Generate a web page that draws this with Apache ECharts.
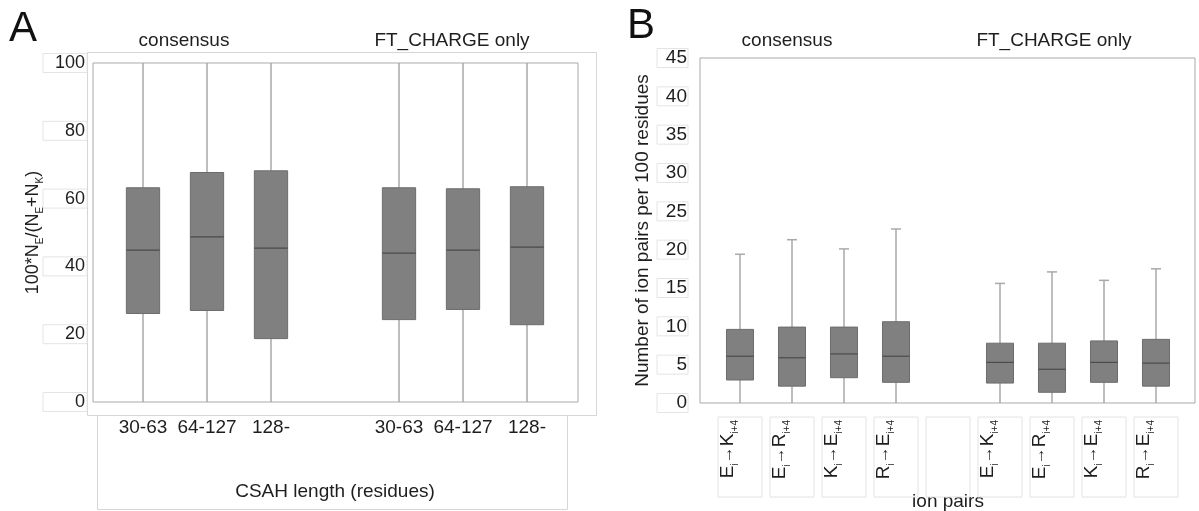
<!DOCTYPE html>
<html>
<head>
<meta charset="utf-8">
<script src="https://cdn.jsdelivr.net/npm/echarts@6/dist/echarts.min.js"></script>
<style>
  html, body { margin: 0; padding: 0; background: #fff; }
  #chart { width: 1199px; height: 511px; }
</style>
</head>
<body>
<div id="chart"></div>
<script>
// 面板A：CSAH 长度分组（空字符串为两组之间的空位）
const catsA = ['30-63', '64-127', '128-', '', '30-63', '64-127', '128-']
const minA = [0, 0, 0, null, 0, 0, 0]
const q1A = [26.1, 27.0, 18.7, null, 24.3, 27.3, 22.8]
const medA = [44.8, 48.7, 45.4, null, 43.9, 44.8, 45.7]
const q3A = [63.2, 67.7, 68.2, null, 63.2, 62.9, 63.5]
const maxA = [100, 100, 100, null, 100, 100, 100]
const ticksA = [0, 20, 40, 60, 80, 100]

// 面板B：离子对 i -> i+4
const catsB = ['E,K', 'E,R', 'K,E', 'R,E', '', 'E,K', 'E,R', 'K,E', 'R,E']
const minB = [0, 0, 0, 0, null, 0, 0, 0, 0]
const q1B = [3.0, 2.2, 3.3, 2.7, null, 2.6, 1.4, 2.7, 2.2]
const medB = [6.1, 5.9, 6.4, 6.1, null, 5.3, 4.4, 5.3, 5.2]
const q3B = [9.6, 9.9, 9.9, 10.6, null, 7.8, 7.8, 8.1, 8.3]
const maxB = [19.4, 21.3, 20.1, 22.7, null, 15.6, 17.1, 16.0, 17.5]
const ticksB = [0, 5, 10, 15, 20, 25, 30, 35, 40, 45]

const FONT = 'Liberation Sans'
const TXT = '#1e1e1e'
const WHISKER = '#a9a9a9'

// 组装箱线数据 [x, min, q1, median, q3, max]
function buildData(cats, lo, q1, md, q3, hi) {
  const out = []
  cats.forEach((c, i) => {
    if (c !== '') out.push([i, lo[i], q1[i], md[i], q3[i], hi[i]])
  })
  return out
}

// 自定义箱线图绘制
function boxRenderer(ratio, capW) {
  return function (params, api) {
    const x = api.value(0)
    const lo = api.coord([x, api.value(1)])
    const q1 = api.coord([x, api.value(2)])
    const md = api.coord([x, api.value(3)])
    const q3 = api.coord([x, api.value(4)])
    const hi = api.coord([x, api.value(5)])
    const w = api.size([1, 0])[0] * ratio
    const line = (x1, y1, x2, y2, stroke, lw) => ({
      type: 'line',
      shape: { x1, y1, x2, y2 },
      style: { stroke, lineWidth: lw }
    })
    const children = [
      line(hi[0], hi[1], q3[0], q3[1], WHISKER, 1.5),
      line(lo[0], lo[1], q1[0], q1[1], WHISKER, 1.5)
    ]
    if (capW) {
      children.push(line(hi[0] - capW / 2, hi[1], hi[0] + capW / 2, hi[1], WHISKER, 1.5))
    }
    children.push({
      type: 'rect',
      shape: { x: q3[0] - w / 2, y: q3[1], width: w, height: q1[1] - q3[1] },
      style: { fill: '#808080', stroke: '#6c6c6c', lineWidth: 1 }
    })
    children.push(line(md[0] - w / 2, md[1], md[0] + w / 2, md[1], '#4a4a4a', 1.2))
    return { type: 'group', children }
  }
}

const subRich = {
  s: { fontFamily: FONT, fontSize: 10, color: TXT, verticalAlign: 'bottom', padding: [0, 0, -3, 0] },
  ar: { fontFamily: FONT, fontSize: 17, color: TXT }
}

const chart = echarts.init(document.getElementById('chart'))

const gridBase = { outerBoundsMode: 'none', containLabel: false }

const option = {
  animation: false,
  textStyle: { fontFamily: FONT },
  grid: [
    { ...gridBase, left: 93, top: 63, width: 485, height: 339, show: true, borderColor: '#a9a9a9', borderWidth: 1 },
    { ...gridBase, left: 111, top: 63, width: 448, height: 339 },
    { ...gridBase, left: 700, top: 58, width: 495, height: 345, show: true, borderColor: '#a9a9a9', borderWidth: 1 },
    { ...gridBase, left: 714, top: 58, width: 468, height: 345 }
  ],
  xAxis: [
    { gridIndex: 0, type: 'value', show: false, min: 0, max: 1 },
    {
      gridIndex: 1,
      type: 'category',
      data: catsA,
      axisLine: { show: false },
      axisTick: { show: false },
      axisLabel: { interval: 0, margin: 16, fontSize: 19, color: TXT },
      name: 'CSAH length (residues)',
      nameLocation: 'middle',
      nameGap: 80,
      nameTextStyle: { fontSize: 19, color: TXT }
    },
    { gridIndex: 2, type: 'value', show: false, min: 0, max: 1 },
    {
      gridIndex: 3,
      type: 'category',
      data: catsB,
      axisLine: { show: false },
      axisTick: { show: false },
      axisLabel: {
        interval: 0,
        rotate: 90,
        margin: 14,
        fontSize: 19,
        color: TXT,
        width: 74,
        height: 44,
        borderColor: '#e2e2e2',
        borderWidth: 1,
        padding: [0, 3, 0, 3],
        formatter: (v) => {
          if (!v) return ' '
          const [a, b] = v.split(',')
          return a + '{s|i}{ar|→}' + b + '{s|i+4}'
        },
        rich: subRich
      },
      name: 'ion pairs',
      nameLocation: 'middle',
      nameMoveOverlap: false,
      nameGap: 89,
      nameTextStyle: { fontSize: 19, color: TXT }
    }
  ],
  yAxis: [
    {
      gridIndex: 0,
      type: 'value',
      min: ticksA[0],
      max: ticksA[ticksA.length - 1],
      interval: ticksA[1] - ticksA[0],
      axisLine: { show: false },
      axisTick: { show: false },
      splitLine: { show: false },
      axisLabel: {
        margin: 6,
        fontSize: 18,
        color: TXT,
        width: 32,
        padding: [1, 2, 0, 10],
        borderColor: '#e4e4e4',
        borderWidth: 1
      },
      name: '100*N{s|E}/(N{s|E}+N{s|K})',
      nameLocation: 'middle',
      nameRotate: 90,
      nameMoveOverlap: false,
      nameGap: 51,
      nameTextStyle: { fontSize: 18, color: TXT, rich: subRich }
    },
    { gridIndex: 1, type: 'value', show: false, min: ticksA[0], max: ticksA[ticksA.length - 1] },
    {
      gridIndex: 2,
      type: 'value',
      min: ticksB[0],
      max: ticksB[ticksB.length - 1],
      interval: ticksB[1] - ticksB[0],
      axisLine: { show: false },
      axisTick: { show: false },
      splitLine: { show: false },
      axisLabel: {
        margin: 12,
        fontSize: 19,
        color: TXT,
        width: 26,
        padding: [0, 1, 0, 4],
        borderColor: '#e4e4e4',
        borderWidth: 1
      },
      name: 'Number of ion pairs per 100 residues',
      nameLocation: 'middle',
      nameRotate: 90,
      nameGap: 44,
      nameTextStyle: { fontSize: 19, color: TXT }
    },
    { gridIndex: 3, type: 'value', show: false, min: ticksB[0], max: ticksB[ticksB.length - 1] }
  ],
  graphic: [
    { type: 'text', left: 9, top: 8, style: { text: 'A', fontSize: 42, fontFamily: FONT, fill: '#111' } },
    { type: 'text', left: 627, top: 5, style: { text: 'B', fontSize: 42, fontFamily: FONT, fill: '#111' } },
    { type: 'text', x: 184, y: 41, style: { text: 'consensus', fontSize: 19, fontFamily: FONT, fill: TXT, align: 'center', verticalAlign: 'middle' } },
    { type: 'text', x: 452, y: 41, style: { text: 'FT_CHARGE only', fontSize: 19, fontFamily: FONT, fill: TXT, align: 'center', verticalAlign: 'middle' } },
    { type: 'text', x: 787, y: 41, style: { text: 'consensus', fontSize: 19, fontFamily: FONT, fill: TXT, align: 'center', verticalAlign: 'middle' } },
    { type: 'text', x: 1054, y: 41, style: { text: 'FT_CHARGE only', fontSize: 19, fontFamily: FONT, fill: TXT, align: 'center', verticalAlign: 'middle' } },
    // 面板A外框与横轴标题框
    { type: 'rect', shape: { x: 87.5, y: 52.5, width: 509, height: 363 }, style: { fill: 'none', stroke: '#d6d6d6', lineWidth: 1 }, z: -1 },
    { type: 'rect', shape: { x: 97.5, y: 415.5, width: 470, height: 94 }, style: { fill: 'none', stroke: '#d6d6d6', lineWidth: 1 }, z: -1 }
  ],
  series: [
    {
      type: 'custom',
      xAxisIndex: 1,
      yAxisIndex: 1,
      renderItem: boxRenderer(0.52, 0),
      encode: { x: 0, y: [1, 2, 3, 4, 5] },
      data: buildData(catsA, minA, q1A, medA, q3A, maxA),
      silent: true
    },
    {
      type: 'custom',
      xAxisIndex: 3,
      yAxisIndex: 3,
      renderItem: boxRenderer(0.52, 10),
      encode: { x: 0, y: [1, 2, 3, 4, 5] },
      data: buildData(catsB, minB, q1B, medB, q3B, maxB),
      silent: true
    }
  ]
}

chart.setOption(option)
</script>
</body>
</html>
